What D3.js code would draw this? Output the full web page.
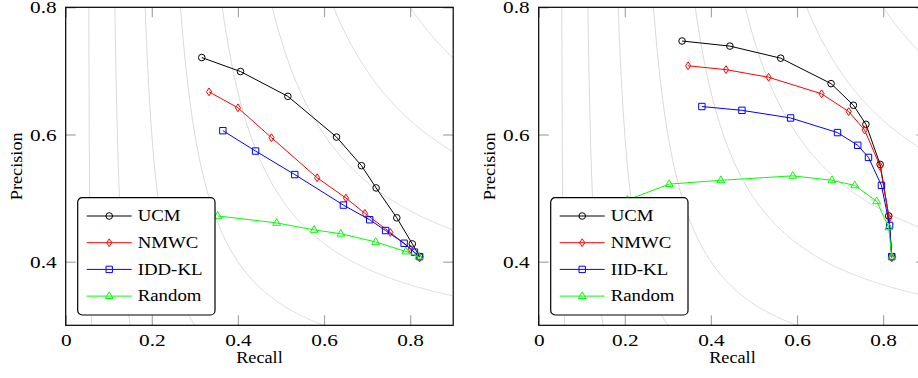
<!DOCTYPE html>
<html>
<head>
<meta charset="utf-8">
<script src="https://cdn.jsdelivr.net/npm/d3@7/dist/d3.min.js"></script>
<style>
  body { margin: 0; background: #fff; }
</style>
</head>
<body>
<div id="chart"></div>
<script>
// Left panel data (recall / precision)
const ucmA_R  = [0.316, 0.406, 0.516, 0.629, 0.687, 0.721, 0.769, 0.805, 0.822];
const ucmA_P  = [0.721, 0.699, 0.660, 0.596, 0.551, 0.516, 0.469, 0.428, 0.408];
const nmwcA_R = [0.333, 0.400, 0.478, 0.584, 0.651, 0.695, 0.754, 0.801, 0.822];
const nmwcA_P = [0.667, 0.642, 0.595, 0.532, 0.500, 0.476, 0.446, 0.420, 0.406];
const iddA_R  = [0.365, 0.441, 0.532, 0.645, 0.706, 0.743, 0.786, 0.810, 0.822];
const iddA_P  = [0.606, 0.574, 0.537, 0.489, 0.466, 0.449, 0.429, 0.415, 0.408];
const randA_R = [0.353, 0.490, 0.577, 0.639, 0.720, 0.790, 0.820];
const randA_P = [0.472, 0.461, 0.450, 0.444, 0.431, 0.416, 0.408];

// Right panel data
const ucmB_R  = [0.333, 0.444, 0.562, 0.679, 0.731, 0.760, 0.793, 0.813, 0.820];
const ucmB_P  = [0.747, 0.739, 0.720, 0.680, 0.646, 0.616, 0.553, 0.472, 0.408];
const nmwcB_R = [0.347, 0.435, 0.534, 0.657, 0.720, 0.757, 0.793, 0.814, 0.820];
const nmwcB_P = [0.708, 0.702, 0.690, 0.664, 0.636, 0.607, 0.550, 0.468, 0.406];
const iidB_R  = [0.379, 0.472, 0.585, 0.694, 0.741, 0.766, 0.796, 0.815, 0.820];
const iidB_P  = [0.644, 0.638, 0.626, 0.603, 0.583, 0.564, 0.520, 0.457, 0.408];
const randB_R = [0.206, 0.303, 0.423, 0.590, 0.681, 0.734, 0.785, 0.813, 0.820];
const randB_P = [0.497, 0.522, 0.528, 0.535, 0.528, 0.520, 0.495, 0.454, 0.408];

const legendA = ['UCM', 'NMWC', 'IDD-KL', 'Random'];
const legendB = ['UCM', 'NMWC', 'IID-KL', 'Random'];

// Axis ticks and the F-measure contour levels
const xTicks = [0, 0.2, 0.4, 0.6, 0.8];
const xTickLabels = ['0', '0.2', '0.4', '0.6', '0.8'];
const yTicks = [0.4, 0.6, 0.8];
const yTickLabels = ['0.4', '0.6', '0.8'];
const fLevels = [0.1, 0.2, 0.3, 0.4, 0.5, 0.6, 0.7, 0.8, 0.9];

const colors = ['#000000', '#ff0000', '#0000ff', '#00ff00'];
const shapes = ['circle', 'diamond', 'square', 'triangle'];

const svgWidth = 918, svgHeight = 378;
const plotTop = 7.3, plotBottom = 325.3, plotWidth = 387.5;
const serif = 'Liberation Serif';

const svg = d3.select('#chart')
  .append('svg')
  .attr('width', svgWidth)
  .attr('height', svgHeight);

function font(sel, size) {
  sel.attr('font-family', serif).attr('font-size', size).attr('fill', '#000');
}

function markerPath(shape) {
  if (shape === 'circle') return 'M3.3,0A3.3,3.3 0 1,1 -3.3,0A3.3,3.3 0 1,1 3.3,0Z';
  if (shape === 'diamond') return 'M0,-3.9L2.6,0L0,3.9L-2.6,0Z';
  if (shape === 'square') return 'M-3.2,-3.2H3.2V3.2H-3.2Z';
  return 'M0,-4.3L3.9,2.4H-3.9Z';
}

function drawPanel(left, series, names, id) {
  const x = d3.scaleLinear().domain([0, 0.9]).range([left, left + plotWidth]);
  const y = d3.scaleLinear().domain([0.3, 0.8]).range([plotBottom, plotTop]);

  svg.append('clipPath').attr('id', 'clip' + id)
    .append('rect')
    .attr('x', left).attr('y', plotTop)
    .attr('width', plotWidth).attr('height', plotBottom - plotTop);

  const plot = svg.append('g').attr('clip-path', 'url(#clip' + id + ')');

  // iso F-measure curves
  const iso = d3.line().x(d => x(d[0])).y(d => y(Math.min(d[1], 3)));
  fLevels.forEach(f => {
    const pts = d3.range(0, 401).map(i => {
      const r = f / 2 + 0.0005 + (0.9 - f / 2) * i / 400;
      return [r, f * r / (2 * r - f)];
    });
    plot.append('path')
      .attr('d', iso(pts))
      .style('fill', 'none')
      .style('stroke', '#d9d9d9')
      .style('stroke-width', '1px');
  });

  // ticks (inside, all four sides)
  const tickStyle = g => {
    g.select('.domain').remove();
    g.selectAll('.tick line').attr('stroke', '#a6a6a6').attr('stroke-width', 1.2);
  };
  svg.append('g')
    .attr('transform', 'translate(0,' + plotBottom + ')')
    .call(d3.axisBottom(x).tickValues(xTicks).tickSize(-10).tickPadding(0)
      .tickFormat((d, i) => xTickLabels[i]))
    .call(tickStyle)
    .call(g => g.selectAll('.tick text')
      .attr('y', null).attr('dy', null)
      .attr('transform', 'translate(0,20.8) scale(1.29,1)')
      .call(font, 16.5));
  svg.append('g')
    .attr('transform', 'translate(0,' + plotTop + ')')
    .call(d3.axisTop(x).tickValues(xTicks).tickSize(-10).tickFormat(''))
    .call(tickStyle);
  svg.append('g')
    .attr('transform', 'translate(' + left + ',0)')
    .call(d3.axisLeft(y).tickValues(yTicks).tickSize(-10).tickPadding(0)
      .tickFormat((d, i) => yTickLabels[i]))
    .call(tickStyle)
    .call(g => g.selectAll('.tick text')
      .attr('x', null).attr('dy', null)
      .attr('transform', 'translate(-9,5.6) scale(1.29,1)')
      .call(font, 16.5));
  svg.append('g')
    .attr('transform', 'translate(' + (left + plotWidth) + ',0)')
    .call(d3.axisRight(y).tickValues(yTicks).tickSize(-10).tickFormat(''))
    .call(tickStyle);

  // series lines and markers
  const line = d3.line().x(d => x(d[0])).y(d => y(d[1]));
  series.forEach((s, k) => {
    const pts = s[0].map((r, i) => [r, s[1][i]]);
    plot.append('path')
      .datum(pts)
      .attr('d', line)
      .style('fill', 'none')
      .style('stroke', colors[k])
      .style('stroke-width', '1px');
    plot.selectAll('.m' + k)
      .data(pts)
      .enter().append('path')
      .attr('transform', d => 'translate(' + x(d[0]) + ',' + y(d[1]) + ')')
      .attr('d', markerPath(shapes[k]))
      .style('fill', 'none')
      .style('stroke', colors[k])
      .style('stroke-width', '1px');
  });

  // frame
  svg.append('rect')
    .attr('x', left).attr('y', plotTop)
    .attr('width', plotWidth).attr('height', plotBottom - plotTop)
    .style('fill', 'none')
    .style('stroke', '#000')
    .style('stroke-width', '1.2px');

  // axis titles
  svg.append('text')
    .attr('transform', 'translate(' + (left + plotWidth / 2) + ',362.7) scale(1.14,1)')
    .attr('text-anchor', 'middle')
    .call(font, 16)
    .text('Recall');
  svg.append('text')
    .attr('transform', 'translate(' + (left - 44) + ',' + ((plotTop + plotBottom) / 2) + ') rotate(-90) scale(1.14,1)')
    .attr('text-anchor', 'middle')
    .call(font, 16)
    .text('Precision');

  // legend
  const lg = svg.append('g').attr('transform', 'translate(' + (left + 12) + ',197.7)');
  lg.append('rect')
    .attr('width', 137.3).attr('height', 117.3).attr('rx', 4.5)
    .style('fill', '#fff')
    .style('stroke', '#000')
    .style('stroke-width', '1.2px');
  names.forEach((name, k) => {
    const cy = 18.3 + k * 26.7;
    lg.append('line')
      .attr('x1', 9).attr('x2', 54).attr('y1', cy).attr('y2', cy)
      .style('stroke', colors[k]).style('stroke-width', '1px');
    lg.append('path')
      .attr('transform', 'translate(31.5,' + cy + ')')
      .attr('d', markerPath(shapes[k]))
      .style('fill', 'none')
      .style('stroke', colors[k])
      .style('stroke-width', '1px');
    lg.append('text')
      .attr('transform', 'translate(60,' + (cy + 5.2) + ') scale(1.14,1)')
      .call(font, 16.5)
      .text(name);
  });
}

drawPanel(65.7, [[ucmA_R, ucmA_P], [nmwcA_R, nmwcA_P], [iddA_R, iddA_P], [randA_R, randA_P]], legendA, 'A');
drawPanel(538.7, [[ucmB_R, ucmB_P], [nmwcB_R, nmwcB_P], [iidB_R, iidB_P], [randB_R, randB_P]], legendB, 'B');
</script>
</body>
</html>
